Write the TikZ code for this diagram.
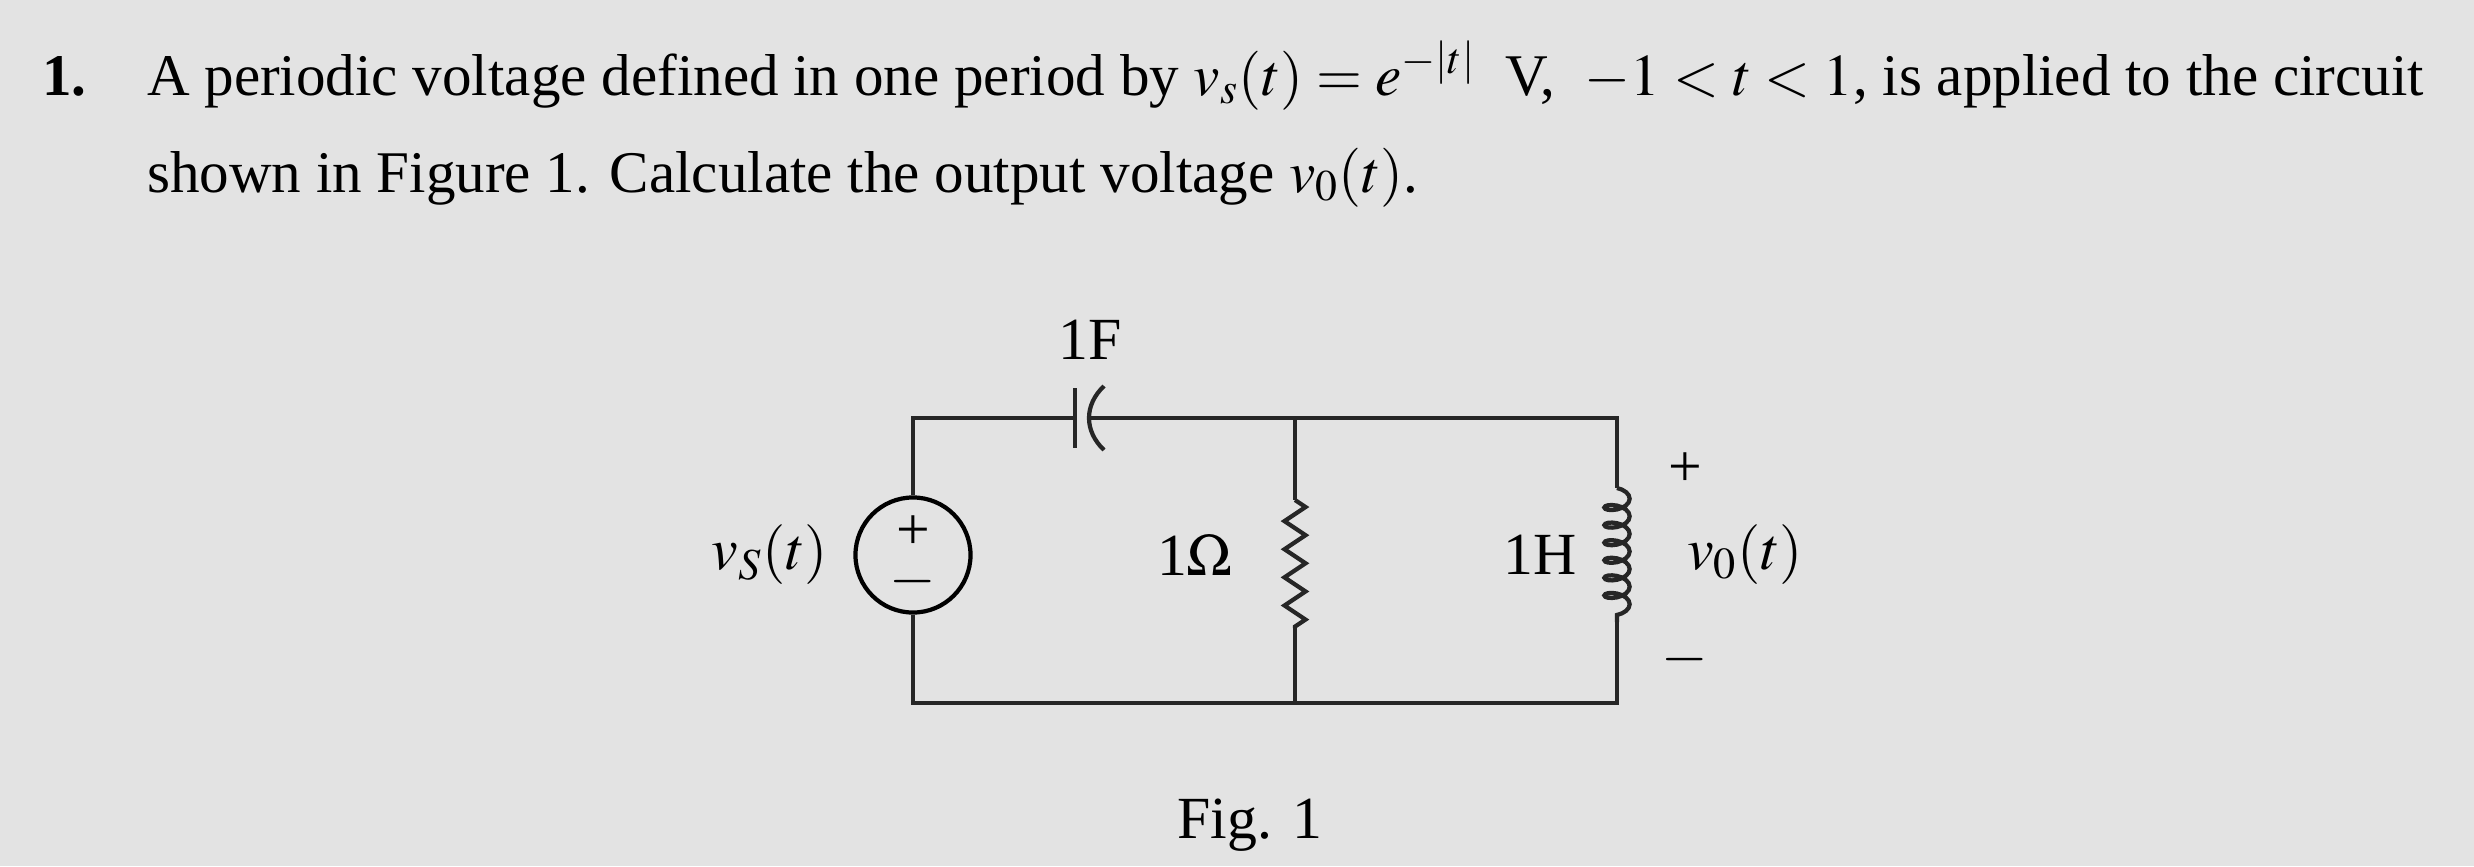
\documentclass[tikz,border=0pt]{standalone}
\usepackage{mathptmx}
\usepackage{fontspec}
\setmainfont{Liberation Serif}
\usetikzlibrary{decorations.pathmorphing}
\begin{document}
\begin{tikzpicture}[x=0.01cm,y=-0.01cm,line width=1.2pt,
  txt/.style={anchor=base west,inner sep=0pt,font=\fontsize{16.8}{20}\selectfont},
  lbl/.style={inner sep=0pt,font=\fontsize{17}{20}\selectfont},
  wire/.style={line width=1.2pt,black!85},
  src/.style={circle,draw,line width=1.2pt,minimum size=1.15cm,inner sep=0pt}]
 \fill[gray!22] (0,0) rectangle (2474,866);
 \useasboundingbox (0,0) rectangle (2474,866);
 \node[txt] (n1) at (40,95) {\textbf{1.}};
 \node[txt] (l1) at (145,95) {A periodic voltage defined in one period by $v_s(t)=e^{-|t|}$\ \ V, \ $-1<t<1$, is applied to the circuit};
 \node[txt] (l2) at (145,192) {shown in Figure 1. Calculate the output voltage $v_0(t)$.};
 % circuit
 \node[src] (vs) at (913,555) {};
 \node[lbl] at (913,533) {+};
 \node[lbl] at (913,582) {$-$};
 \coordinate (tl) at (913,418);
 \coordinate (bl) at (913,703);
 \coordinate (c1) at (1075,418);
 \coordinate (c2) at (1090,418);
 \coordinate (rt) at (1295,418);
 \coordinate (rb) at (1295,703);
 \coordinate (lt) at (1617,418);
 \coordinate (lb) at (1617,703);
 \draw[wire] (vs.north) -- (tl) -- (c1);
 \draw[wire] (c1) ++(0,-30) -- ++(0,60);
 \draw[wire] (1104,386) .. controls (1084,405) and (1084,431) .. (1104,450);
 \draw[wire] (c2) -- (lt) -- (1617,488);
 \draw[wire] (rt) -- (1295,500);
 \draw[wire,decorate,decoration={zigzag,segment length=8pt,amplitude=3pt}] (1295,500) -- (1295,628);
 \draw[wire] (1295,628) -- (rb);
 \draw[wire,decorate,decoration={coil,segment length=5pt,amplitude=3.6pt,aspect=0.5}] (1617,488) -- (1617,622);
 \draw[wire] (1617,622) -- (lb) -- (bl) -- (vs.south);
 \node[lbl] (lc) at (1090,340) {1F};
 \node[lbl] (lv) at (770,555) {$v_S(t)$};
 \node[lbl] (lr) at (1195,555) {1$\Omega$};
 \node[lbl] (ll) at (1540,555) {1H};
 \node[lbl] (pp) at (1685,470) {+};
 \node[lbl] (vo) at (1745,555) {$v_0(t)$};
 \node[lbl] (mm) at (1685,660) {$-$};
 \node[lbl] (fig) at (1250,825) {Fig. 1};
\end{tikzpicture}
\end{document}
